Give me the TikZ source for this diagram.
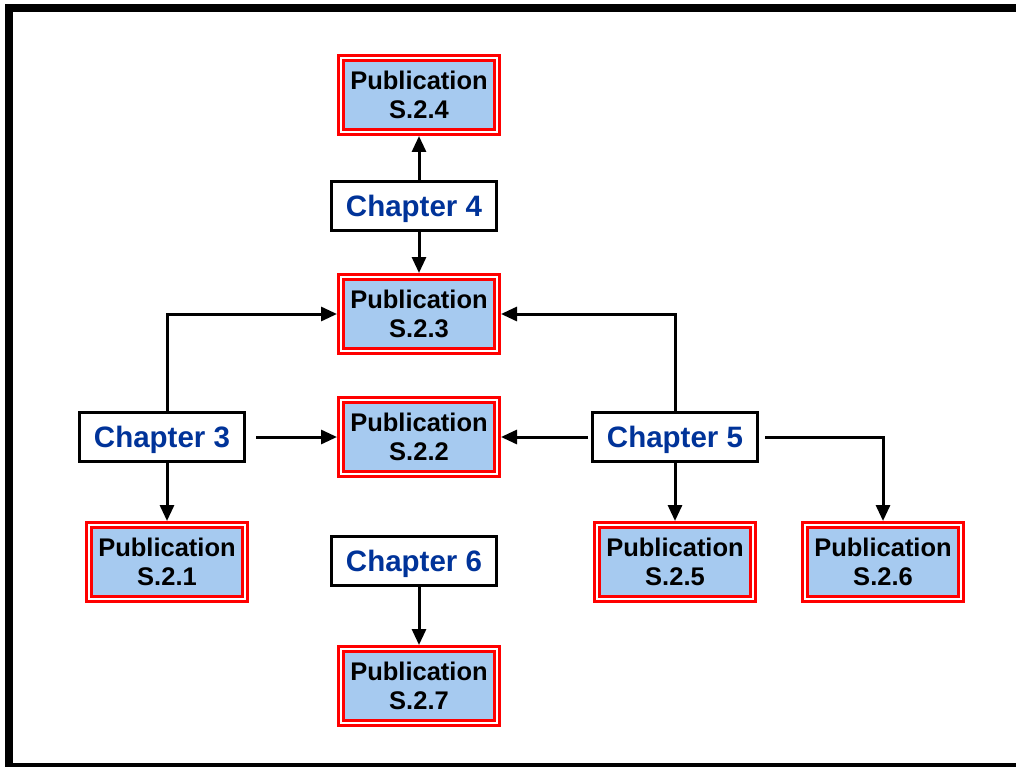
\documentclass[tikz,border=0pt]{standalone}
\usepackage{fontspec}
\setmainfont{Liberation Sans}
\usetikzlibrary{arrows.meta,calc}
\definecolor{pubfill}{RGB}{166,202,240}
\definecolor{chapblue}{RGB}{0,51,153}
\definecolor{pubred}{RGB}{255,0,0}
\begin{document}
\begin{tikzpicture}[x=1pt,y=-1pt,
  pub/.style={draw=pubred, line width=3pt, double=white, double distance=2pt,
    fill=pubfill, minimum width=156pt, minimum height=74pt, inner sep=0pt,
    outer sep=4pt, align=center, font=\fontsize{25.5}{29.5}\selectfont\bfseries},
  chap/.style={draw=black, line width=3pt, fill=white, minimum width=165pt,
    minimum height=49pt, inner sep=0pt, text=chapblue, text height=21pt, text depth=0pt,
    font=\fontsize{29.5}{32}\selectfont\bfseries},
  arr/.style={line width=3pt, -{Triangle[length=16pt,width=14pt]}}]
\useasboundingbox (0,0) rectangle (1016,767);
\fill[white] (0,0) rectangle (1016,767);
\draw[line width=8pt] (9,8) rectangle (1040,767);

\node[pub] (s24) at (419,95) {Publication\\S.2.4};
\node[pub] (s23) at (419,314) {Publication\\S.2.3};
\node[pub] (s22) at (419,437) {Publication\\S.2.2};
\node[pub] (s21) at (167,562) {Publication\\S.2.1};
\node[pub] (s25) at (675,562) {Publication\\S.2.5};
\node[pub] (s26) at (883,562) {Publication\\S.2.6};
\node[pub] (s27) at (419,686) {Publication\\S.2.7};

\node[chap] (ch4) at (414,206) {Chapter 4};
\node[chap] (ch3) at (162,437) {Chapter 3};
\node[chap] (ch5) at (675,437) {Chapter 5};
\node[chap] (ch6) at (414,561) {Chapter 6};

\draw[arr] (ch4.north -| s24.south) -- (s24.south);
\draw[arr] (ch4.south -| s23.north) -- (s23.north);
\draw[arr] (ch3.north -| s21.north) |- (s23.west);
\draw[arr] (ch5.north) |- (s23.east);
\draw[arr, shorten <=10pt] (ch3.east) -- (s22.west);
\draw[arr, shorten <=3pt] (ch5.west) -- (s22.east);
\draw[arr] (ch3.south -| s21.north) -- (s21.north);
\draw[arr] (ch5.south) -- (s25.north);
\draw[arr, shorten <=6pt] (ch5.east) -| (s26.north);
\draw[arr] (ch6.south -| s27.north) -- (s27.north);
\end{tikzpicture}
\end{document}
